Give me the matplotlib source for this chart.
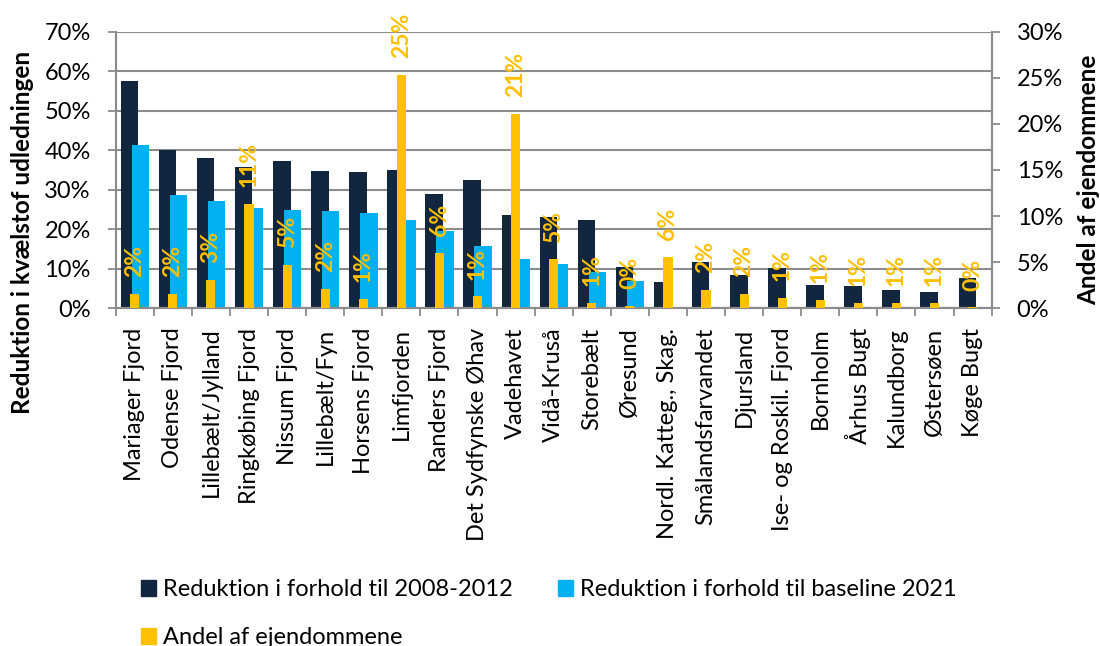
import matplotlib
matplotlib.use("Agg")
import matplotlib.pyplot as plt
import numpy as np
from matplotlib.patches import Patch
from matplotlib.ticker import FuncFormatter, MultipleLocator

# Catchment areas (kystvandoplande)
areas = [
    "Mariager Fjord", "Odense Fjord", "Lillebælt/Jylland", "Ringkøbing Fjord",
    "Nissum Fjord", "Lillebælt/Fyn", "Horsens Fjord", "Limfjorden",
    "Randers Fjord", "Det Sydfynske Øhav", "Vadehavet", "Vidå-Kruså",
    "Storebælt", "Øresund", "Nordl. Katteg., Skag.", "Smålandsfarvandet",
    "Djursland", "Ise- og Roskil. Fjord", "Bornholm", "Århus Bugt",
    "Kalundborg", "Østersøen", "Køge Bugt",
]

# Reduction in nitrogen discharge (%), primary axis
red_2008_2012 = [57.4, 40.0, 38.1, 35.8, 37.3, 34.7, 34.5, 35.1, 29.0, 32.4,
                 23.5, 23.2, 22.4, 10.5, 6.6, 11.6, 8.4, 10.2, 5.9, 5.6,
                 4.6, 4.2, 7.7]
red_baseline_2021 = [41.3, 28.7, 27.2, 25.5, 24.9, 24.5, 24.2, 22.4, 19.6, 15.8,
                     12.5, 11.2, 9.1, 6.9, 0, 0, 0, 0, 0, 0,
                     0, 0, 0]

# Share of properties (%), secondary axis
andel = [1.6, 1.6, 3.1, 11.3, 4.7, 2.1, 1.0, 25.3, 6.0, 1.3,
         21.1, 5.3, 0.6, 0.3, 5.6, 2.0, 1.6, 1.1, 0.9, 0.6,
         0.6, 0.6, 0.1]

series_names = ["Reduktion i forhold til 2008-2012",
                "Reduktion i forhold til baseline 2021",
                "Andel af ejendommene"]

NAVY = "#13263f"
CYAN = "#00b0f0"
GOLD = "#ffc000"
GRID = "#8c8c8c"

FONT = "Lato"
plt.rcParams["font.family"] = [FONT, "DejaVu Sans"]
TXT = 17

fig = plt.figure(figsize=(11, 6.46), dpi=100)
ax = fig.add_axes([0.1052, 0.5228, 0.9015 - 0.1052, 0.951 - 0.5228])
ax2 = ax.twinx()

x = np.arange(len(areas))
ax.bar(x - 0.14, red_2008_2012, width=0.46, color=NAVY, zorder=2)
ax.bar(x + 0.145, red_baseline_2021, width=0.46, color=CYAN, zorder=3)
ax2.bar(x, andel, width=0.24, color=GOLD, zorder=3)

for xi, v in zip(x, andel):
    ax2.annotate(f"{v:.0f}%", xy=(xi, v), xytext=(0, 12),
                 textcoords="offset points", rotation=90,
                 ha="center", va="bottom", color=GOLD,
                 fontsize=16.5, fontweight="bold")

ax.set_xlim(-0.5, len(areas) - 0.5)
ax.set_ylim(0, 70)
ax2.set_ylim(0, 30)
ax.yaxis.set_major_locator(MultipleLocator(10))
ax2.yaxis.set_major_locator(MultipleLocator(5))
pct = FuncFormatter(lambda v, _: f"{v:.0f}%")
ax.yaxis.set_major_formatter(pct)
ax2.yaxis.set_major_formatter(pct)

ax.set_axisbelow(True)
ax.grid(axis="y", color=GRID, linewidth=1.5, zorder=0)

ax.set_xticks(x)
ax.set_xticklabels(areas, rotation=90, fontsize=TXT)
ax.set_xticks(np.arange(len(areas) + 1) - 0.5, minor=True)
ax.tick_params(axis="x", which="major", length=0, pad=14)
ax.tick_params(axis="x", which="minor", length=6, width=1.3, color=GRID,
               direction="out")
ax.tick_params(axis="y", labelsize=TXT, length=6, width=1.3, color=GRID,
               pad=12)
ax2.tick_params(axis="y", labelsize=TXT, length=6, width=1.3, color=GRID,
                pad=12)

for a in (ax, ax2):
    a.spines["top"].set_visible(False)
    for s in ("left", "right", "bottom"):
        a.spines[s].set_color(GRID)
        a.spines[s].set_linewidth(1.5)

fig.text(23 / 1100, 1 - 232 / 646, "Reduktion i kvælstof udledningen",
         rotation=90, ha="center", va="center", fontsize=17.5,
         fontweight="bold")
fig.text(1089 / 1100, 1 - 180 / 646, "Andel af ejendommene",
         rotation=90, ha="center", va="center", fontsize=17.5,
         fontweight="bold")

# legend filled column-wise: first column holds series 1 and 3
handles = [Patch(color=NAVY), Patch(color=GOLD), Patch(color=CYAN)]
labels = [series_names[0], series_names[2], series_names[1]]
fig.legend(handles, labels, ncol=2, loc="upper left",
           bbox_to_anchor=(141 / 1100, 1 - 579 / 646), frameon=False,
           fontsize=TXT, handlelength=0.65, handleheight=0.65,
           handletextpad=0.3, columnspacing=1.9, labelspacing=1.15,
           borderaxespad=0, borderpad=0)

fig.savefig("out.png", dpi=100)
